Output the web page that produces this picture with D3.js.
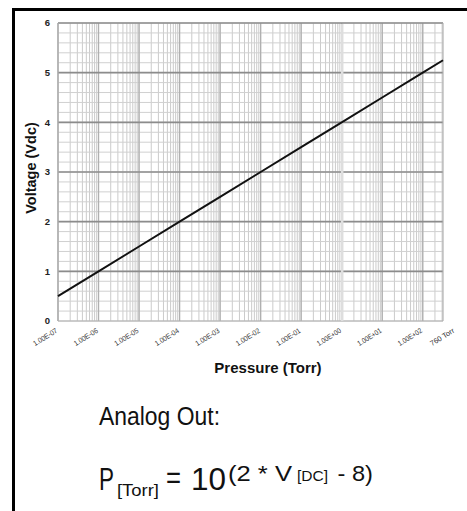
<!DOCTYPE html>
<html><head><meta charset="utf-8">
<script src="https://cdn.jsdelivr.net/npm/d3@7"></script>
<style>
html,body{margin:0;padding:0;background:#fff;overflow:hidden}
svg{display:block}
</style></head>
<body>
<svg id="chart" width="467" height="511"></svg>
<script>
// ---- data ----
const pressureTorr = [1e-7, 1e-6, 1e-5, 1e-4, 1e-3, 1e-2, 1e-1, 1e0, 1e1, 1e2, 316];
const voltageVdc   = [0.5, 1.0, 1.5, 2.0, 2.5, 3.0, 3.5, 4.0, 4.5, 5.0, 5.25];
const xTickValues  = [1e-7, 1e-6, 1e-5, 1e-4, 1e-3, 1e-2, 1e-1, 1e0, 1e1, 1e2, 316];
const xTickLabels  = ["1.00E-07","1.00E-06","1.00E-05","1.00E-04","1.00E-03","1.00E-02","1.00E-01","1.00E+00","1.00E+01","1.00E+02","760 Torr"];
const yTickValues  = [0, 1, 2, 3, 4, 5, 6];
const yTickLabels  = ["0","1","2","3","4","5","6"];

const svg = d3.select("#chart");
const FONT = "'Liberation Sans', Arial, sans-serif";

// frame (only top and left visible)
svg.append("rect").attr("x", 13.5).attr("y", 9.5).attr("width", 700).attr("height", 700)
  .attr("fill", "none").attr("stroke", "#000").attr("stroke-width", 3);

const x = d3.scaleLog().domain([1e-7, 316]).range([58, 443]);
const y = d3.scaleLinear().domain([0, 6]).range([321, 23]);

const g = svg.append("g");

// minor vertical grid
const xMinor = x.ticks().filter(v => v <= 316);
g.selectAll("line.xmin").data(xMinor).join("line")
  .attr("x1", d => x(d)).attr("x2", d => x(d))
  .attr("y1", y(0)).attr("y2", y(6))
  .attr("stroke", "#cbcbcb").attr("stroke-width", 1);

// minor horizontal grid
const yMinor = y.ticks(30);
g.selectAll("line.ymin").data(yMinor).join("line")
  .attr("x1", x(1e-7)).attr("x2", x(316))
  .attr("y1", d => y(d)).attr("y2", d => y(d))
  .attr("stroke", "#d0d0d0").attr("stroke-width", 1);

// decade vertical lines
g.selectAll("line.xmaj").data(xTickValues.slice(0, 10)).join("line")
  .attr("x1", d => x(d)).attr("x2", d => x(d))
  .attr("y1", y(0)).attr("y2", y(6))
  .attr("stroke", "#b0b0b0").attr("stroke-width", 1.3);

// major horizontal lines
g.selectAll("line.ymaj").data(yTickValues).join("line")
  .attr("x1", x(1e-7)).attr("x2", x(316))
  .attr("y1", d => y(d)).attr("y2", d => y(d))
  .attr("stroke", d => d === 0 ? "#b0b0b0" : "#8c8c8c").attr("stroke-width", d => d === 0 ? 1.2 : 1.6);

// light gap at 1.00E+00
g.append("line").attr("x1", x(1e0) + 0.5).attr("x2", x(1e0) + 0.5)
  .attr("y1", y(6) + 1).attr("y2", y(0))
  .attr("stroke", "#dedede").attr("stroke-width", 2.5);

// plot border right / left
g.append("line").attr("x1", x(316)).attr("x2", x(316)).attr("y1", y(0)).attr("y2", y(6))
  .attr("stroke", "#b0b0b0").attr("stroke-width", 1.2);
g.append("line").attr("x1", x(1e-7)).attr("x2", x(1e-7)).attr("y1", y(0)).attr("y2", y(6))
  .attr("stroke", "#b0b0b0").attr("stroke-width", 1.2);

// data line
const line = d3.line().x((d, i) => x(pressureTorr[i])).y(d => y(d));
svg.append("path").datum(voltageVdc).attr("d", line)
  .attr("fill", "none").attr("stroke", "#111").attr("stroke-width", 2);

// y tick labels
svg.selectAll("text.ytl").data(yTickValues).join("text")
  .attr("x", 50).attr("y", d => y(d)).attr("dy", "0.35em")
  .attr("text-anchor", "end").attr("font-family", FONT).attr("font-weight", "bold")
  .attr("font-size", 9.5).attr("fill", "#222")
  .text((d, i) => yTickLabels[i]);

// x tick labels
svg.selectAll("text.xtl").data(xTickValues).join("text")
  .attr("transform", (d, i) => `translate(${x(d) + (i === 10 ? 12 : 0)},${332}) rotate(-32)`)
  .attr("text-anchor", "end").attr("font-family", FONT)
  .attr("font-size", 7.4).attr("fill", "#333")
  .attr("textLength", 27).attr("lengthAdjust", "spacingAndGlyphs")
  .text((d, i) => xTickLabels[i]);

// axis titles
svg.append("text").attr("transform", "translate(36,168) rotate(-90)")
  .attr("text-anchor", "middle").attr("font-family", FONT).attr("font-weight", "bold")
  .attr("font-size", 14.5).attr("fill", "#111").text("Voltage (Vdc)");
svg.append("text").attr("x", 268).attr("y", 373)
  .attr("text-anchor", "middle").attr("font-family", FONT).attr("font-weight", "bold")
  .attr("font-size", 15).attr("fill", "#111").text("Pressure (Torr)");

// Analog Out text
svg.append("text").attr("x", 99).attr("y", 425)
  .attr("font-family", FONT).attr("font-size", 25).attr("fill", "#111")
  .attr("textLength", 121).attr("lengthAdjust", "spacingAndGlyphs")
  .text("Analog Out:");

const f = svg.append("text").attr("font-family", FONT).attr("fill", "#111");
f.append("tspan").attr("x", 99).attr("y", 490).attr("font-size", 31).attr("textLength", 15).attr("lengthAdjust", "spacingAndGlyphs").text("P");
f.append("tspan").attr("x", 117).attr("y", 496).attr("font-size", 16).attr("textLength", 42).attr("lengthAdjust", "spacingAndGlyphs").text("[Torr]");
f.append("tspan").attr("x", 166).attr("y", 488).attr("font-size", 31).attr("textLength", 15).attr("lengthAdjust", "spacingAndGlyphs").text("=");
f.append("tspan").attr("x", 191).attr("y", 490).attr("font-size", 31).attr("textLength", 35).attr("lengthAdjust", "spacingAndGlyphs").text("10");
f.append("tspan").attr("x", 228).attr("y", 481).attr("font-size", 22).attr("textLength", 64).attr("lengthAdjust", "spacingAndGlyphs").text("(2 * V");
f.append("tspan").attr("x", 297).attr("y", 481).attr("font-size", 14).attr("textLength", 31).attr("lengthAdjust", "spacingAndGlyphs").text("[DC]");
f.append("tspan").attr("x", 331).attr("y", 481).attr("font-size", 22).attr("textLength", 42).attr("lengthAdjust", "spacingAndGlyphs").text(" - 8)");
</script>
</body></html>
